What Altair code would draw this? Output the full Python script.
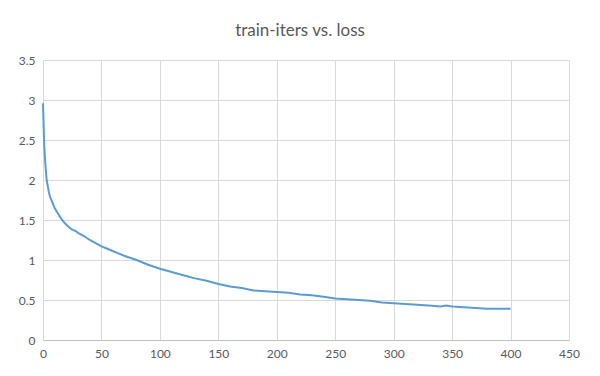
import altair as alt
import pandas as pd

iters = [0, 1, 2, 3, 4, 5, 6, 8, 10, 12, 15, 18, 20, 23, 25, 28, 30, 35, 40, 45,
         50, 55, 60, 65, 70, 80, 90, 100, 110, 120, 130, 140, 150, 160, 170, 180,
         190, 200, 210, 220, 230, 240, 250, 260, 270, 280, 290, 300, 310, 320,
         330, 340, 345, 350, 360, 370, 380, 390, 400]
loss = [2.96, 2.45, 2.2, 2.02, 1.93, 1.85, 1.79, 1.72, 1.65, 1.6, 1.53, 1.47, 1.44,
        1.40, 1.38, 1.36, 1.34, 1.30, 1.25, 1.21, 1.17, 1.14, 1.11, 1.08, 1.05,
        1.00, 0.94, 0.89, 0.85, 0.81, 0.77, 0.74, 0.70, 0.67, 0.65, 0.62, 0.61,
        0.60, 0.59, 0.57, 0.56, 0.54, 0.52, 0.51, 0.50, 0.49, 0.47, 0.46, 0.45,
        0.44, 0.43, 0.42, 0.43, 0.42, 0.41, 0.40, 0.39, 0.39, 0.39]
x_ticks = [0, 50, 100, 150, 200, 250, 300, 350, 400, 450]
y_ticks = [0, 0.5, 1, 1.5, 2, 2.5, 3, 3.5]

df = pd.DataFrame({"iters": iters, "loss": loss})

chart = alt.Chart(df).mark_line(color="#5B9BD5", strokeWidth=2).encode(
    x=alt.X("iters:Q", scale=alt.Scale(domain=[0, 450], nice=False),
            axis=alt.Axis(values=x_ticks, title=None, ticks=False,
                          domainColor="#BFBFBF", labelPadding=8,
                          labelFlush=False, labelOverlap=False)),
    y=alt.Y("loss:Q", scale=alt.Scale(domain=[0, 3.5], nice=False),
            axis=alt.Axis(values=y_ticks, title=None, ticks=False, domain=False,
                          format="~g", labelPadding=8, labelFlush=False,
                          labelOverlap=False)),
).properties(
    width=526, height=280,
    title=alt.TitleParams("train-iters vs. loss", fontSize=17, fontWeight="normal",
                          color="#595959", font="Lato", anchor="middle", dx=-6,
                          offset=14),
    autosize=alt.AutoSizeParams(type="none"),
    padding={"left": 35, "top": 52, "right": 23, "bottom": 28},
).configure_axis(
    gridColor="#D9D9D9", gridWidth=1, labelColor="#595959", labelFontSize=12,
    labelFont="Lato",
).configure_view(stroke=None)

chart.save("out.html", embed_options={"renderer": "svg", "actions": False})
